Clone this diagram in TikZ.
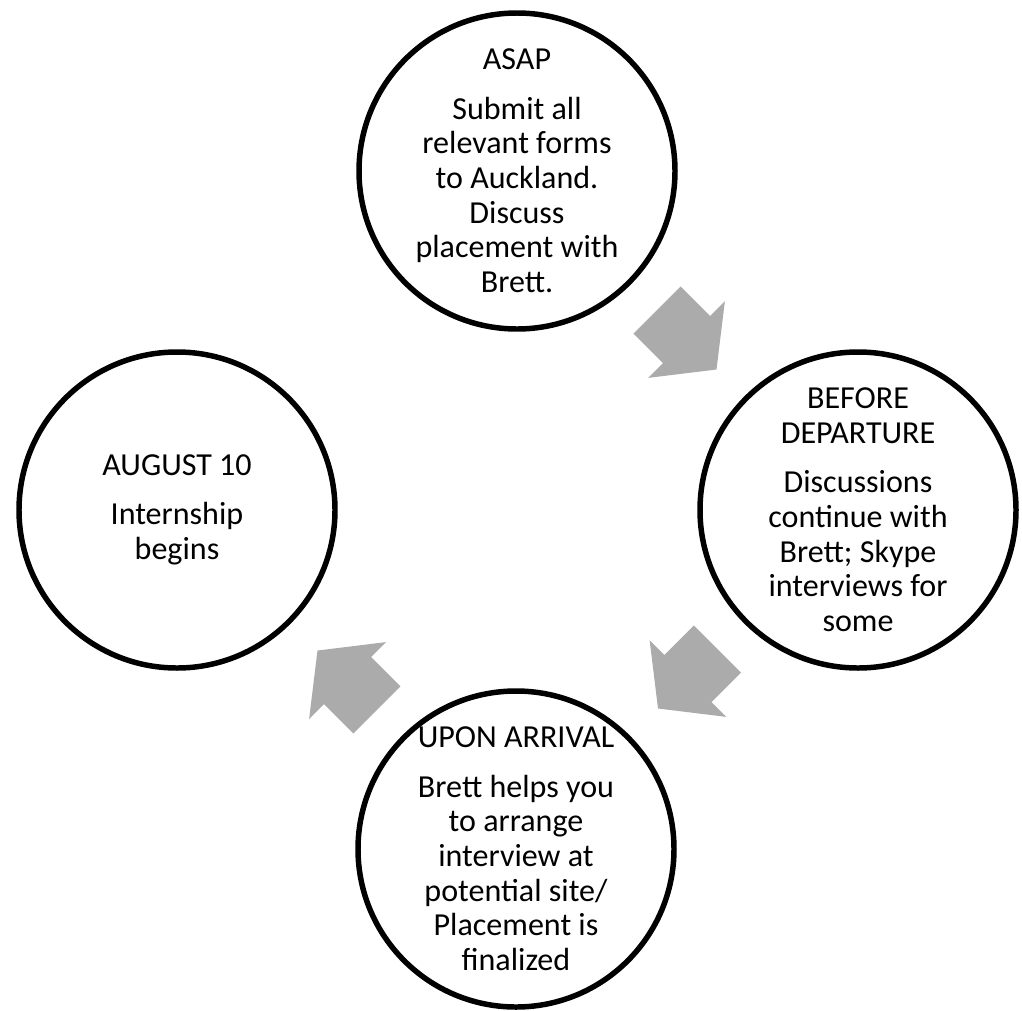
\documentclass[tikz,border=0pt]{standalone}
\usepackage{fontspec}
\setmainfont{Carlito}
\usetikzlibrary{shapes.arrows,calc}

\definecolor{arrowGray}{RGB}{171,171,171}

\tikzset{stageCircle/.style={circle, draw=black, line width=3.9pt, minimum size=7.9cm, inner sep=0pt},
        stageText/.style={align=center, inner sep=0pt, font=\fontsize{22.8pt}{24.7pt}\selectfont},
        cycleArrow/.style={single arrow, draw=none, fill=arrowGray, inner xsep=0pt, inner ysep=0.825cm,
                minimum height=2.1cm, minimum width=2.7cm,
                single arrow head extend=0.525cm, single arrow tip angle=104}}

\begin{document}
\begin{tikzpicture}
\useasboundingbox (0,0) rectangle (25.55,-25.25);

% draw stage circles
\node[stageCircle] (asap) at (12.925,-4.275) {};
\node[stageCircle] (depart) at (21.45,-12.75) {};
\node[stageCircle] (arrive) at (12.9,-21.225) {};
\node[stageCircle] (august) at (4.425,-12.75) {};

% draw texts on top of circles
\node[stageText] (asap-t) at (asap) {ASAP\\[0.36cm]Submit all\\relevant forms\\to Auckland.\\Discuss\\placement with\\Brett.};
\node[stageText] (depart-t) at (depart) {BEFORE\\DEPARTURE\\[0.36cm]Discussions\\continue with\\Brett; Skype\\interviews for\\some};
\node[stageText] (arrive-t) at (arrive) {UPON ARRIVAL\\[0.36cm]Brett helps you\\to arrange\\interview at\\potential site/\\Placement is\\finalized};
\node[stageText] (august-t) at (august) {AUGUST 10\\[0.36cm]Internship\\begins};

% draw block arrows between stages
\foreach \from/\to/\ang in {asap/depart/-45, depart/arrive/-135, arrive/august/135} {
    \node[cycleArrow, rotate=\ang, xshift=-0.35cm] (\from-\to) at ($(\from)!0.5!(\to)$) {};
}

\end{tikzpicture}
\end{document}
